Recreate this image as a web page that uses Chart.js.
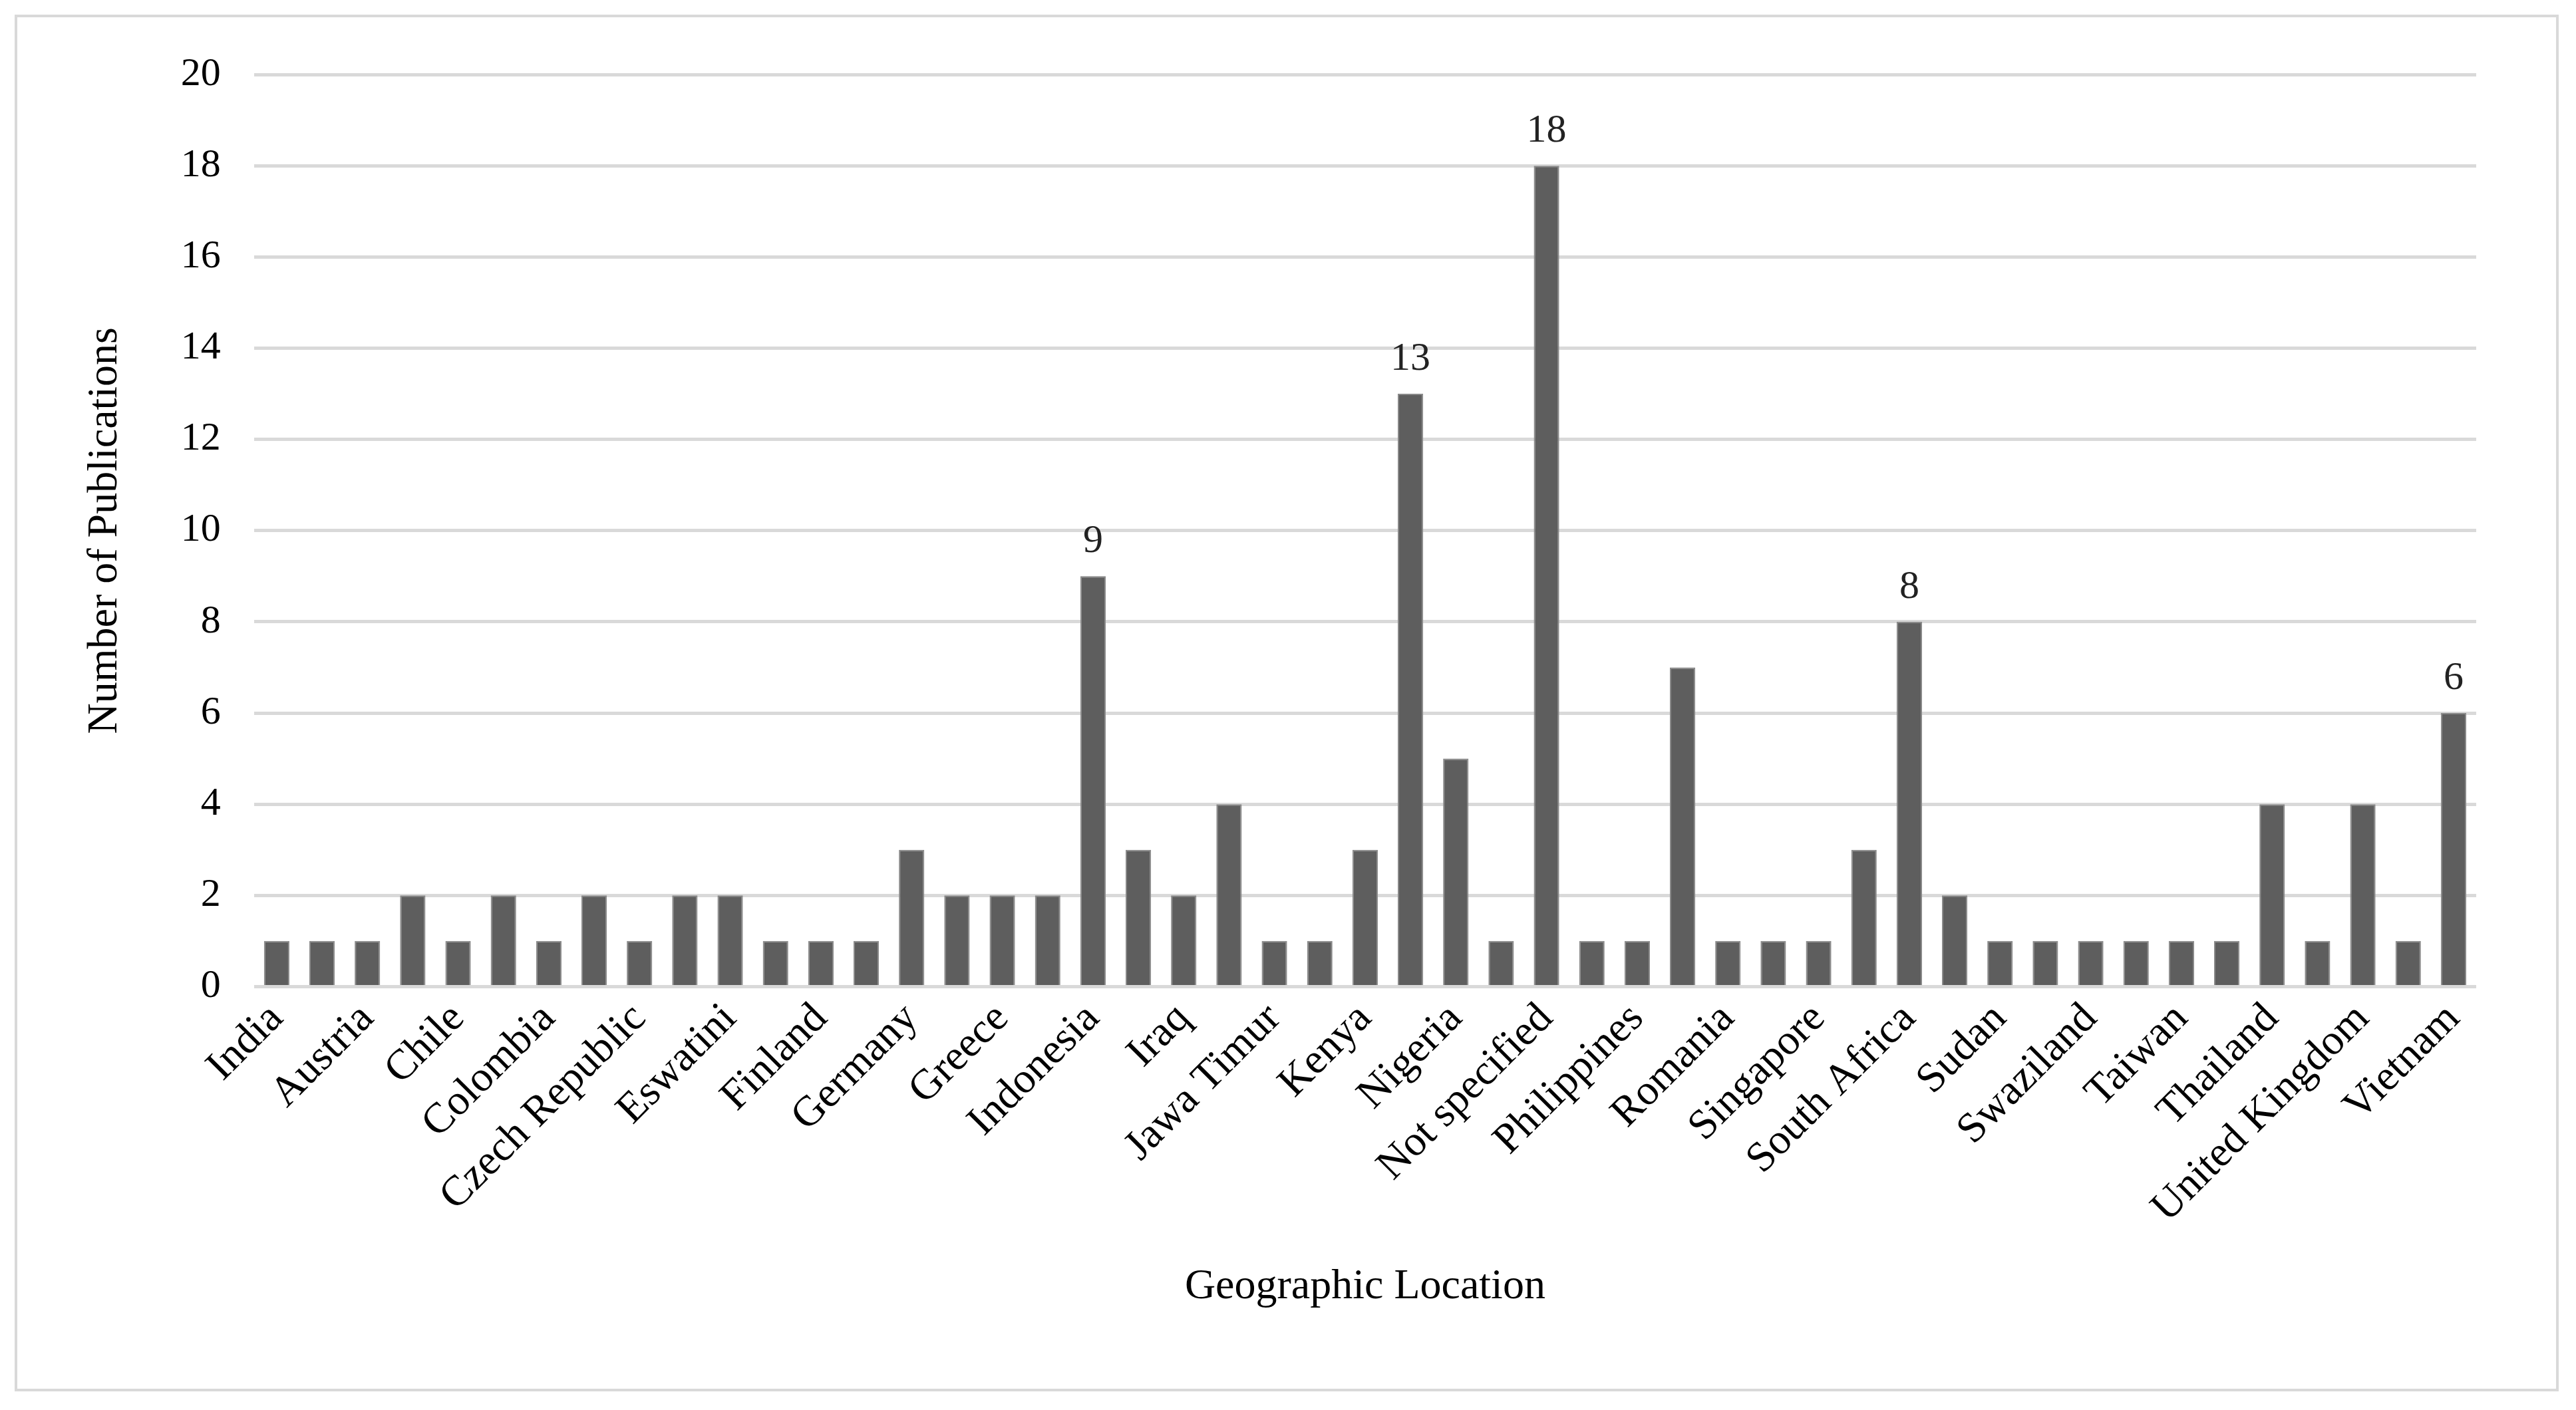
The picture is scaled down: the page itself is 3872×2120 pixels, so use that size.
<!DOCTYPE html>
<html>
<head>
<meta charset="utf-8">
<script src="https://cdn.jsdelivr.net/npm/chart.js@4.4.0/dist/chart.umd.min.js"></script>
<style>
  html, body { margin: 0; padding: 0; background: #fff; }
  #frame { position: absolute; left: 22px; top: 22px; width: 3824px; height: 2070px; border: 4px solid #d9d9d9; box-sizing: border-box; }
  #wrap { position: absolute; left: 0; top: 0; width: 3816px; height: 2062px; }
</style>
</head>
<body>
<div id="frame"><div id="wrap"><canvas id="barChart"></canvas></div></div>
<script>
// Categorías (las etiquetas pares no se ven en la imagen, se ocultan)
const locations = ['India', 'Australia', 'Austria', 'Brazil', 'Chile', 'China', 'Colombia', 'Croatia',
  'Czech Republic', 'Egypt', 'Eswatini', 'Ethiopia', 'Finland', 'France', 'Germany', 'Ghana', 'Greece',
  'India ', 'Indonesia', 'Iran', 'Iraq', 'Italy', 'Jawa Timur', 'Jordan', 'Kenya', 'Malaysia', 'Nigeria',
  'Norway', 'Not specified', 'Pakistan', 'Philippines', 'Portugal', 'Romania', 'Saudi Arabia', 'Singapore',
  'Slovenia', 'South Africa', 'Spain', 'Sudan', 'Sweden', 'Swaziland', 'Switzerland', 'Taiwan', 'Tanzania',
  'Thailand', 'Turkey', 'United Kingdom', 'USA', 'Vietnam'];
const publications = [1, 1, 1, 2, 1, 2, 1, 2, 1, 2, 2, 1, 1, 1, 3, 2, 2, 2, 9, 3, 2, 4, 1, 1, 3, 13, 5, 1, 18,
  1, 1, 7, 1, 1, 1, 3, 8, 2, 1, 1, 1, 1, 1, 1, 4, 1, 4, 1, 6];
const labelledBars = ['Indonesia', 'Malaysia', 'Not specified', 'South Africa', 'Vietnam'];

const font = 'Liberation Serif';

// Etiquetas de valor sobre algunas barras
const valueLabels = {
  id: 'valueLabels',
  afterDatasetsDraw(chart) {
    const ctx = chart.ctx;
    const meta = chart.getDatasetMeta(0);
    ctx.save();
    ctx.font = '60px "' + font + '"';
    ctx.fillStyle = '#222';
    ctx.textAlign = 'center';
    ctx.textBaseline = 'bottom';
    meta.data.forEach(function(bar, i) {
      if (labelledBars.includes(locations[i])) {
        ctx.fillText(publications[i], bar.x, bar.y - 22);
      }
    });
    ctx.restore();
  }
};

const ctx = document.getElementById('barChart').getContext('2d');
const barChart = new Chart(ctx, {
  type: 'bar',
  data: {
    labels: locations,
    datasets: [{
      data: publications,
      backgroundColor: '#5e5e5e',
      borderColor: '#8a8a8a',
      borderWidth: 2,
      categoryPercentage: 1,
      barPercentage: 0.56
    }]
  },
  options: {
    responsive: true,
    maintainAspectRatio: false,
    animation: false,
    layout: { padding: { left: 90, right: 120, top: 70, bottom: 110 } },
    plugins: { legend: { display: false }, tooltip: { enabled: false } },
    scales: {
      x: {
        grid: { display: false },
        border: { display: false },
        ticks: {
          autoSkip: false,
          minRotation: 45,
          maxRotation: 45,
          color: '#000',
          font: { family: font, size: 64 },
          callback: function(v, i) { return i % 2 === 0 ? locations[i] : ''; }
        },
        title: { display: true, text: 'Geographic Location', color: '#000', font: { family: font, size: 64 }, padding: { top: 40 } }
      },
      y: {
        min: 0,
        max: 20,
        grid: { color: '#d9d9d9', lineWidth: 5, drawTicks: false },
        border: { display: false },
        ticks: { stepSize: 2, color: '#000', padding: 50, font: { family: font, size: 60 } },
        title: { display: true, text: 'Number of Publications', color: '#000', font: { family: font, size: 64 }, padding: { bottom: 25 } }
      }
    }
  },
  plugins: [valueLabels]
});
</script>
</body>
</html>
